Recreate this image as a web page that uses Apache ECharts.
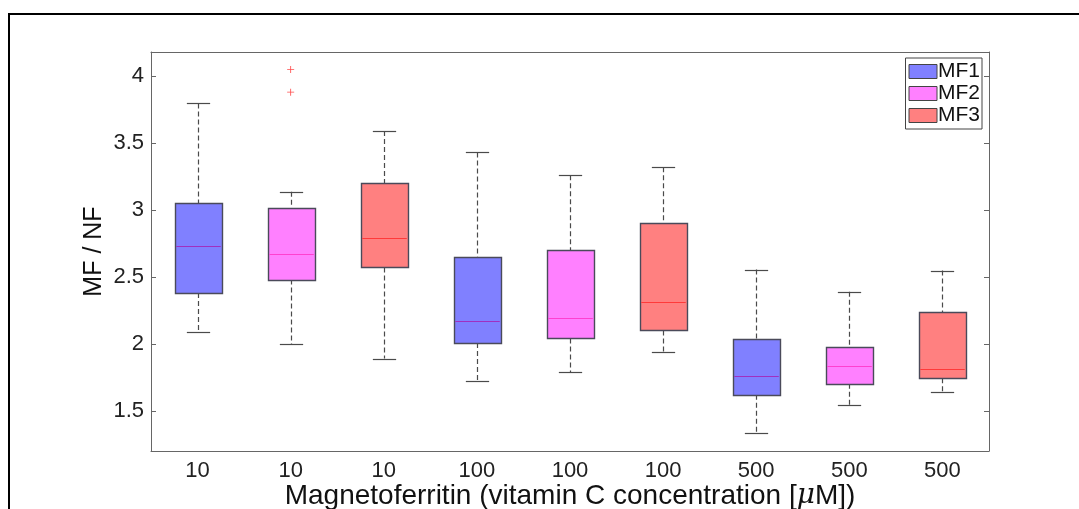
<!DOCTYPE html>
<html>
<head>
<meta charset="utf-8">
<script src="https://cdn.jsdelivr.net/npm/echarts@6/dist/echarts.min.js"></script>
<style>
  html, body { margin: 0; padding: 0; background: #fff; }
  #chart { width: 1079px; height: 509px; }
</style>
</head>
<body>
<div id="chart"></div>
<script>
// categories on the x axis (vitamin C concentration) and box groups
const categories = ["10", "10", "10", "100", "100", "100", "500", "500", "500"];
const groupNames = ["MF1", "MF2", "MF3"];
const groupOf = [0, 1, 2, 0, 1, 2, 0, 1, 2];

// box statistics per category
const lows = [2.09, 2.0, 1.89, 1.726, 1.79, 1.937, 1.335, 1.546, 1.643];
const q1s = [2.38, 2.48, 2.57, 2.007, 2.04, 2.1, 1.62, 1.703, 1.743];
const medians = [2.73, 2.67, 2.79, 2.17, 2.19, 2.316, 1.76, 1.836, 1.815];
const q3s = [3.05, 3.016, 3.2, 2.65, 2.7, 2.9, 2.04, 1.978, 2.236];
const highs = [3.796, 3.136, 3.59, 3.43, 3.26, 3.32, 2.555, 2.39, 2.548];

// outliers: [category index, value]
const outliers = [[1, 4.05], [1, 3.88]];

const yTicks = [1.5, 2, 2.5, 3, 3.5, 4];

const fillColors = ["#8080ff", "#ff80ff", "#ff8080"];
const medianColors = ["#a030c0", "#ff40d0", "#ff3a3a"];
const FONT = "'Liberation Sans', Arial, Helvetica, sans-serif";

const chart = echarts.init(document.getElementById("chart"));

function renderBox(params, api) {
  const x = api.value(0);
  const g = groupOf[x];
  const lo = api.coord([x, api.value(1)]);
  const p1 = api.coord([x, api.value(2)]);
  const pm = api.coord([x, api.value(3)]);
  const p3 = api.coord([x, api.value(4)]);
  const hi = api.coord([x, api.value(5)]);
  const w = api.size([1, 0])[0] * 0.5;
  const cx = Math.round(lo[0]) + 0.5;
  const half = w / 2;
  const cap = w / 4;
  const grey = "#4a4a4a";
  const dash = { stroke: grey, lineWidth: 1.2, lineDash: [5, 3] };
  return {
    type: "group",
    children: [
      { type: "line", shape: { x1: cx, y1: hi[1], x2: cx, y2: p3[1] }, style: dash },
      { type: "line", shape: { x1: cx, y1: p1[1], x2: cx, y2: lo[1] }, style: dash },
      { type: "line", shape: { x1: cx - cap, y1: Math.round(hi[1]) + 0.5, x2: cx + cap, y2: Math.round(hi[1]) + 0.5 }, style: { stroke: grey, lineWidth: 1.2 } },
      { type: "line", shape: { x1: cx - cap, y1: Math.round(lo[1]) + 0.5, x2: cx + cap, y2: Math.round(lo[1]) + 0.5 }, style: { stroke: grey, lineWidth: 1.2 } },
      {
        type: "rect",
        shape: { x: Math.round(cx - half) + 0.5, y: Math.round(p3[1]) + 0.5, width: Math.round(w), height: Math.round(p1[1] - p3[1]) },
        style: { fill: fillColors[g], stroke: "#4a4a5a", lineWidth: 1.4 }
      },
      { type: "line", shape: { x1: cx - half + 1, y1: Math.round(pm[1]) + 0.5, x2: cx + half - 1, y2: Math.round(pm[1]) + 0.5 }, style: { stroke: medianColors[g], lineWidth: 1.2 } }
    ]
  };
}

const boxSeries = groupNames.map((name, g) => ({
  name: name,
  type: "custom",
  renderItem: renderBox,
  itemStyle: { color: fillColors[g], borderColor: "#444", borderWidth: 1 },
  encode: { x: 0, y: [1, 2, 3, 4, 5] },
  data: categories
    .map((c, i) => [i, lows[i], q1s[i], medians[i], q3s[i], highs[i]])
    .filter((row) => groupOf[row[0]] === g),
  z: 2
}));

const axisGrey = "#666";

const option = {
  backgroundColor: "#fff",
  animation: false,
  textStyle: { fontFamily: FONT },
  graphic: [
    {
      type: "rect",
      shape: { x: 9, y: 14, width: 1200, height: 700 },
      style: { fill: "none", stroke: "#000", lineWidth: 2 },
      silent: true
    }
  ],
  grid: { left: 151, right: 90, top: 52, bottom: 58, outerBoundsMode: "none", containLabel: false },
  legend: {
    data: groupNames,
    orient: "vertical",
    right: 97,
    top: 58,
    padding: [3, 2, 3, 3],
    itemGap: 1,
    itemWidth: 28,
    itemHeight: 14,
    icon: "rect",
    backgroundColor: "#fff",
    borderColor: "#444",
    borderWidth: 1,
    borderRadius: 0,
    itemStyle: { borderColor: "#444", borderWidth: 1 },
    textStyle: { fontSize: 21, color: "#111", fontFamily: FONT, lineHeight: 21, padding: [0, 0, 0, -4] }
  },
  xAxis: [
    {
      type: "category",
      data: categories,
      position: "bottom",
      boundaryGap: true,
      axisLine: { lineStyle: { color: axisGrey } },
      axisTick: { inside: true, alignWithLabel: true, length: 5, lineStyle: { color: axisGrey } },
      axisLabel: { fontSize: 22, color: "#222", margin: 9, interval: 0 },
      splitLine: { show: false },
      name: "Magnetoferritin (vitamin C concentration [{mu|μ}M])",
      nameLocation: "middle",
      nameGap: 31,
      nameMoveOverlap: false,
      nameTextStyle: {
        fontSize: 28,
        color: "#111",
        rich: { mu: { fontSize: 28, fontStyle: "italic", fontFamily: "'DejaVu Serif', serif", color: "#111" } }
      }
    },
    {
      type: "category",
      data: categories,
      position: "top",
      boundaryGap: true,
      axisLine: { lineStyle: { color: axisGrey } },
      axisTick: { inside: true, alignWithLabel: true, length: 5, lineStyle: { color: axisGrey } },
      axisLabel: { show: false },
      splitLine: { show: false }
    }
  ],
  yAxis: [
    {
      type: "value",
      position: "left",
      min: 1.2,
      max: 4.18,
      axisLine: { show: true, lineStyle: { color: axisGrey } },
      axisTick: { show: true, inside: true, length: 5, customValues: yTicks, lineStyle: { color: axisGrey } },
      axisLabel: { fontSize: 22, color: "#222", margin: 7, customValues: yTicks },
      splitLine: { show: false },
      name: "MF / NF",
      nameLocation: "middle",
      nameGap: 44,
      nameMoveOverlap: false,
      nameTextStyle: { fontSize: 25, color: "#111" }
    },
    {
      type: "value",
      position: "right",
      min: 1.2,
      max: 4.18,
      axisLine: { show: true, lineStyle: { color: axisGrey } },
      axisTick: { show: true, inside: true, length: 5, customValues: yTicks, lineStyle: { color: axisGrey } },
      axisLabel: { show: false },
      splitLine: { show: false }
    }
  ],
  series: boxSeries.concat([
    {
      name: "outliers",
      type: "scatter",
      data: outliers,
      symbol: "path://M0,4.4H10V5.6H0ZM4.4,0H5.6V10H4.4Z",
      symbolSize: 7,
      itemStyle: { color: "#ff2020" },
      z: 3
    }
  ])
};

chart.setOption(option);
</script>
</body>
</html>
